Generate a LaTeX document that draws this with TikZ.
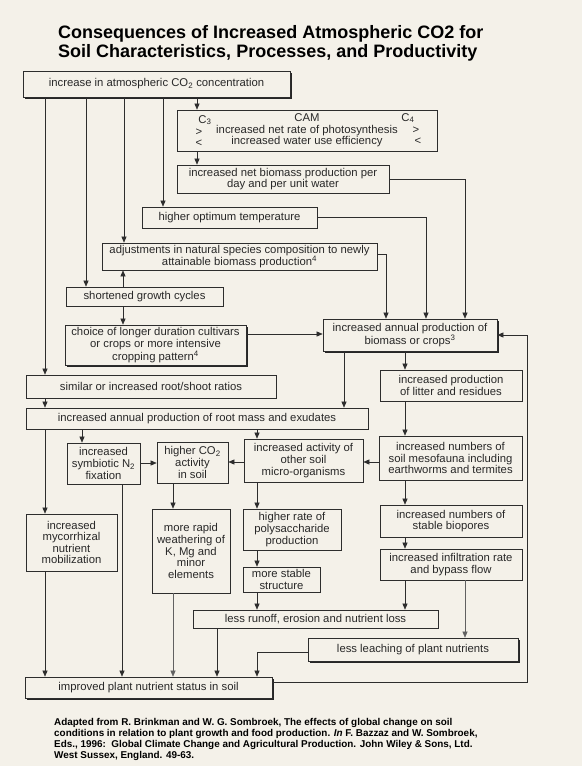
\documentclass[tikz,border=0pt]{standalone}
\usepackage{fontspec}
\setmainfont{Liberation Sans}
\usetikzlibrary{arrows.meta,shadows}
\definecolor{bgc}{RGB}{244,241,233}
\definecolor{linec}{RGB}{45,45,45}
\definecolor{txtc}{RGB}{40,40,40}
\begin{document}
\begin{tikzpicture}[x=1pt,y=-1pt,
  box/.style={draw=linec, line width=0.7pt, fill=bgc, inner sep=0pt, align=center, text=txtc, font=\fontsize{11.3}{11.6}\selectfont},
  sbox/.style={box, drop shadow={shadow xshift=1.6pt, shadow yshift=-1.8pt, fill=black!85, opacity=1}},
  arr/.style={draw=linec, line width=0.6pt, -{Triangle[length=6pt,width=5pt]}},
  thinarr/.style={draw=linec!75, line width=0.4pt, -{Triangle[length=6pt,width=5pt]}},
  lbl/.style={inner sep=0pt, text=txtc, font=\fontsize{11.3}{11.6}\selectfont},
  ttl/.style={inner sep=0pt, anchor=base west, font=\fontsize{18}{20}\selectfont\bfseries},
  fnote/.style={inner sep=0pt, anchor=base west, font=\fontsize{9.9}{11}\selectfont\bfseries},
]
\useasboundingbox[fill=bgc] (0,0) rectangle (582,766);

% title
\node[ttl] (title1) at (58,38) {Consequences of Increased Atmospheric CO2 for};
\node[ttl] (title2) at (58,57) {Soil Characteristics, Processes, and Productivity};

% boxes
\node[sbox, minimum width=267pt, minimum height=26pt] (co2) at (156.5,84) {increase in atmospheric CO\textsubscript{2} concentration};
\node[box, minimum width=260pt, minimum height=41pt] (cam) at (307,130.5) {CAM\\increased net rate of photosynthesis\\increased water use efficiency};
\node[box, minimum width=212pt, minimum height=28pt] (bio) at (283,179) {increased net biomass production per\\day and per unit water};
\node[box, minimum width=175pt, minimum height=21pt] (temp) at (229.5,217.5) {higher optimum temperature};
\node[box, minimum width=275pt, minimum height=27pt] (adj) at (239.5,256.5) {adjustments in natural species composition to newly\\attainable biomass production\textsuperscript{4}};
\node[box, minimum width=157pt, minimum height=19pt] (short) at (144.5,296.5) {shortened growth cycles};
\node[sbox, minimum width=181pt, minimum height=40pt] (choice) at (155.5,345) {choice of longer duration cultivars\\or crops or more intensive\\cropping pattern\textsuperscript{4}};
\node[sbox, minimum width=174pt, minimum height=32pt] (annual) at (410,335) {increased annual production of\\biomass or crops\textsuperscript{3}};
\node[box, minimum width=250pt, minimum height=23pt] (ratio) at (151,386.5) {similar or increased root/shoot ratios};
\node[box, minimum width=342pt, minimum height=21pt] (root) at (197,418.5) {increased annual production of root mass and exudates};
\node[box, minimum width=142pt, minimum height=31pt] (litter) at (451,385.5) {increased production\\of litter and residues};
\node[box, minimum width=143pt, minimum height=44pt] (meso) at (450.5,458) {increased numbers of\\soil mesofauna including\\earthworms and termites};
\node[box, minimum width=119pt, minimum height=43pt] (act) at (303.5,460.5) {increased activity of\\other soil\\micro-organisms};
\node[box, minimum width=71pt, minimum height=41pt] (hco) at (192.5,462.5) {higher CO\textsubscript{2}\\activity\\in soil};
\node[box, minimum width=73pt, minimum height=41pt] (sym) at (103.5,463.5) {increased\\symbiotic N\textsubscript{2}\\fixation};
\node[box, minimum width=91pt, minimum height=57pt] (myc) at (71.5,542.5) {increased\\mycorrhizal\\nutrient\\mobilization};
\node[box, minimum width=78pt, minimum height=84pt] (weath) at (191,551) {more rapid\\weathering of\\K, Mg and\\minor\\elements};
\node[box, minimum width=98pt, minimum height=41pt] (poly) at (292,529.5) {higher rate of\\polysaccharide\\production};
\node[box, minimum width=77pt, minimum height=25pt] (stab) at (281.5,579.5) {more stable\\structure};
\node[box, minimum width=245pt, minimum height=18pt] (runoff) at (315.5,619) {less runoff, erosion and nutrient loss};
\node[box, minimum width=142pt, minimum height=32pt] (pores) at (451,521) {increased numbers of\\stable biopores};
\node[box, minimum width=142pt, minimum height=31pt] (infil) at (451,564.5) {increased infiltration rate\\and bypass flow};
\node[sbox, minimum width=210pt, minimum height=23pt] (leach) at (413,649.5) {less leaching of plant nutrients};
\node[sbox, minimum width=247pt, minimum height=21pt] (impr) at (148.5,687.5) {improved plant nutrient status in soil};

% CAM box side labels
\node[lbl] (c3) at (205,120) {C\textsubscript{3}};
\node[lbl] (c4) at (408,118) {C\textsubscript{4}};
\node[lbl] (gtl) at (199,132) {>};
\node[lbl] (ltl) at (199,143) {<};
\node[lbl] (gtr) at (416,130) {>};
\node[lbl] (ltr) at (418,141) {<};

% column / row coordinates
\coordinate (xA) at (45,0);
\coordinate (xB) at (86,0);
\coordinate (xC) at (124,0);
\coordinate (xD) at (163,0);
\coordinate (xE) at (197,0);
\coordinate (xF) at (123,0);
\coordinate (xG) at (386,0);
\coordinate (xH) at (426,0);
\coordinate (xK) at (465,0);
\coordinate (xL) at (344,0);
\coordinate (xM) at (405,0);
\coordinate (xN) at (82,0);
\coordinate (xP) at (257,0);
\coordinate (xQ) at (173,0);
\coordinate (xS) at (122,0);
\coordinate (xT) at (217,0);
\coordinate (xR) at (527,0);
\coordinate (yChoice) at (0,334);
\coordinate (yMid) at (0,462);
\coordinate (ySym) at (0,463);
\coordinate (yLeach) at (0,652);
\coordinate (yImpr) at (0,682);
\coordinate (yAdj) at (0,254);

% connectors from CO2 box
\draw[arr] (co2.south -| xA) -- (ratio.north -| xA);
\draw[arr] (co2.south -| xB) -- (short.north -| xB);
\draw[arr] (co2.south -| xC) -- (adj.north -| xC);
\draw[arr] (co2.south -| xD) -- (temp.north -| xD);
\draw[arr] (co2.south -| xE) -- (cam.north -| xE);
\draw[arr] (cam.south -| xE) -- (bio.north -| xE);

% into annual production
\draw[arr] (bio.east) -| (annual.north -| xK);
\draw[arr] (temp.east) -| (annual.north -| xH);
\draw[arr] (adj.east |- yAdj) -| (annual.north -| xG);
\draw[arr] (short.north -| xF) -- (adj.south -| xF);
\draw[arr] (short.south -| xF) -- (choice.north -| xF);
\draw[arr] (choice.east |- yChoice) -- (annual.west |- yChoice);

% middle
\draw[arr] (annual.south -| xL) -- (root.north -| xL);
\draw[arr] (annual.south -| xM) -- (litter.north -| xM);
\draw[arr] (litter.south -| xM) -- (meso.north -| xM);
\draw[arr] (meso.west |- yMid) -- (act.east |- yMid);
\draw[arr] (act.west |- yMid) -- (hco.east |- yMid);
\draw[arr] (sym.east |- ySym) -- (hco.west |- ySym);
\draw[arr] (ratio.south -| xA) -- (root.north -| xA);
\draw[arr] (root.south -| xA) -- (myc.north -| xA);
\draw[arr] (root.south -| xN) -- (sym.north -| xN);
\draw[arr] (root.south -| xP) -- (act.north -| xP);
\draw[arr] (hco.south -| xQ) -- (weath.north -| xQ);
\draw[arr] (act.south -| xP) -- (poly.north -| xP);
\draw[arr] (poly.south -| xP) -- (stab.north -| xP);
\draw[arr] (stab.south -| xP) -- (runoff.north -| xP);
\draw[arr] (meso.south -| xM) -- (pores.north -| xM);
\draw[arr] (pores.south -| xM) -- (infil.north -| xM);
\draw[arr] (infil.south -| xM) -- (runoff.north -| xM);
\draw[thinarr] (infil.south -| xK) -- (leach.north -| xK);

% into improved nutrient status
\draw[arr] (myc.south -| xA) -- (impr.north -| xA);
\draw[arr] (sym.south -| xS) -- (impr.north -| xS);
\draw[thinarr] (weath.south -| xQ) -- (impr.north -| xQ);
\draw[arr] (runoff.south -| xT) -- (impr.north -| xT);
\draw[arr] (leach.west |- yLeach) -| (impr.north -| xP);

% feedback loop
\draw[arr] (impr.east |- yImpr) -| (xR |- annual.east) -- (annual.east);

% footnote
\node[fnote] (foot1) at (54,725) {Adapted from R. Brinkman and W. G. Sombroek, The effects of global change on soil};
\node[fnote] (foot2) at (54,736) {conditions in relation to plant growth and food production. \textit{In} F. Bazzaz and W. Sombroek,};
\node[fnote] (foot3) at (54,747) {Eds., 1996:\ \ Global Climate Change and Agricultural Production. John Wiley \& Sons, Ltd.};
\node[fnote] (foot4) at (54,758) {West Sussex, England. 49-63.};
\end{tikzpicture}
\end{document}
